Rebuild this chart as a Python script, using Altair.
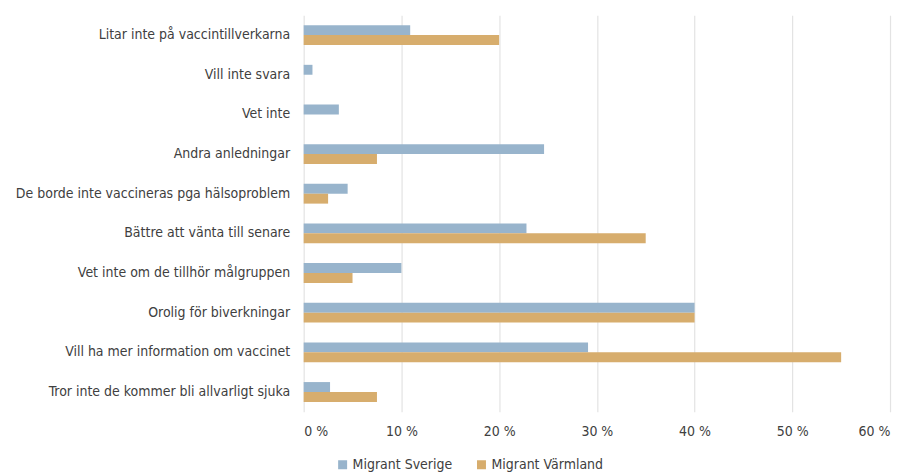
import altair as alt
import pandas as pd

categories = [
    "Litar inte på vaccintillverkarna",
    "Vill inte svara",
    "Vet inte",
    "Andra anledningar",
    "De borde inte vaccineras pga hälsoproblem",
    "Bättre att vänta till senare",
    "Vet inte om de tillhör målgruppen",
    "Orolig för biverkningar",
    "Vill ha mer information om vaccinet",
    "Tror inte de kommer bli allvarligt sjuka",
]
sverige = [10.9, 0.9, 3.6, 24.6, 4.5, 22.8, 10.0, 40.0, 29.1, 2.7]
varmland = [20.0, 0.0, 0.0, 7.5, 2.5, 35.0, 5.0, 40.0, 55.0, 7.5]
series = ["Migrant Sverige", "Migrant Värmland"]
colors = ["#98B4CC", "#D7AD6D"]
x_ticks = [0, 10, 20, 30, 40, 50, 60]

rows = []
for c, a, b in zip(categories, sverige, varmland):
    rows.append({"kategori": c, "serie": series[0], "andel": a})
    rows.append({"kategori": c, "serie": series[1], "andel": b})
df = pd.DataFrame(rows)

FONT = "DejaVu Sans Condensed"

chart = (
    alt.Chart(df)
    .mark_bar()
    .encode(
        y=alt.Y(
            "kategori:N",
            sort=categories,
            scale=alt.Scale(paddingInner=0.5, paddingOuter=0.25),
            axis=alt.Axis(
                title=None,
                labelFontSize=14,
                labelColor="#404040",
                labelFont=FONT,
                labelPadding=14,
                ticks=False,
                domain=False,
                grid=False,
                labelLimit=320,
            ),
        ),
        yOffset=alt.YOffset("serie:N", sort=series),
        x=alt.X(
            "andel:Q",
            scale=alt.Scale(domain=[0, 60], nice=False),
            axis=alt.Axis(
                title=None,
                values=x_ticks,
                labelExpr="datum.value + ' %'",
                labelFontSize=14,
                labelFont=FONT,
                labelColor="#404040",
                labelPadding=13,
                ticks=False,
                domain=False,
                grid=True,
                gridColor="#e3e3e3",
                gridWidth=1.2,
            ),
        ),
        color=alt.Color(
            "serie:N",
            sort=series,
            scale=alt.Scale(domain=series, range=colors),
            legend=alt.Legend(
                title=None,
                orient="none",
                direction="horizontal",
                legendX=32,
                legendY=443,
                symbolType="square",
                symbolSize=81,
                symbolStrokeWidth=0,
                labelFontSize=14,
                labelFont=FONT,
                labelColor="#404040",
                labelOffset=3,
                columnPadding=22,
            ),
        ),
    )
    .properties(
        width=587,
        height=397,
        autosize=alt.AutoSizeParams(type="none"),
        padding={"left": 296, "top": 7, "right": 10, "bottom": 63},
    )
    .configure_view(stroke=None)
)

chart.save("out.html", embed_options={"renderer": "svg", "actions": False})
